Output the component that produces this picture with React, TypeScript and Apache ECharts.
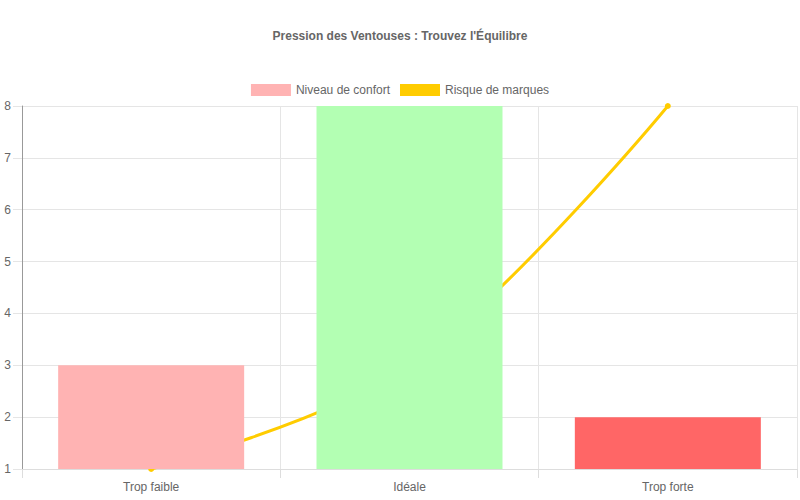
import { useEffect, useRef } from 'react'
import * as echarts from 'echarts'

const CATEGORIES = ['Trop faible', 'Idéale', 'Trop forte']
const CONFORT = [3, 8, 2]
const CONFORT_COLORS = ['#FFB3B3', '#B3FFB3', '#FF6666']
const RISQUE = [1, 3, 8]
const Y_TICKS = { min: 1, max: 8, interval: 1 }

const FONT = '"Liberation Sans", Arial, sans-serif'
const TEXT = '#666'

export default function App() {
  const ref = useRef<HTMLDivElement | null>(null)

  useEffect(() => {
    if (!ref.current) return
    document.body.style.margin = '0'
    const chart = echarts.init(ref.current, null, { renderer: 'svg' })
    chart.setOption({
      animation: false,
      textStyle: { fontFamily: FONT },
      title: {
        text: "Pression des Ventouses : Trouvez l'Équilibre",
        left: 'center',
        top: 25,
        textStyle: { fontSize: 12, fontWeight: 'bold', color: TEXT, fontFamily: FONT },
      },
      legend: {
        top: 79,
        left: 'center',
        itemWidth: 40,
        itemHeight: 12,
        itemGap: 10,
        textStyle: { fontSize: 12, color: TEXT, fontFamily: FONT },
        data: [
          { name: 'Niveau de confort', icon: 'rect', itemStyle: { color: '#FFB3B3' } },
          { name: 'Risque de marques', icon: 'rect', itemStyle: { color: '#FFCC00' } },
        ],
      },
      grid: { left: 22, right: 3, top: 106, bottom: 31, containLabel: false },
      xAxis: {
        type: 'category',
        data: CATEGORIES,
        boundaryGap: true,
        axisLine: { show: true, lineStyle: { color: '#ddd' } },
        axisTick: { show: true, length: 9, lineStyle: { color: '#ddd' } },
        axisLabel: { color: TEXT, fontSize: 12, margin: 12, fontFamily: FONT },
        splitLine: { show: true, lineStyle: { color: '#e5e5e5' } },
      },
      yAxis: {
        type: 'value',
        min: Y_TICKS.min,
        max: Y_TICKS.max,
        interval: Y_TICKS.interval,
        axisLine: { show: true, lineStyle: { color: '#999' } },
        axisTick: { show: true, length: 9, lineStyle: { color: '#e5e5e5' } },
        axisLabel: { color: TEXT, fontSize: 12, margin: 11, fontFamily: FONT },
        splitLine: { show: true, lineStyle: { color: '#e5e5e5' } },
      },
      series: [
        {
          name: 'Niveau de confort',
          type: 'bar',
          z: 3,
          barWidth: '72%',
          data: CONFORT.map((v, i) => ({ value: v, itemStyle: { color: CONFORT_COLORS[i] } })),
        },
        {
          name: 'Risque de marques',
          type: 'line',
          z: 2,
          data: RISQUE,
          smooth: 0.35,
          symbol: 'circle',
          symbolSize: 6,
          lineStyle: { color: '#FFCC00', width: 3 },
          itemStyle: { color: '#FFCC00' },
        },
      ],
    })
    return () => chart.dispose()
  }, [])

  return <div ref={ref} style={{ width: 800, height: 500 }} />
}
